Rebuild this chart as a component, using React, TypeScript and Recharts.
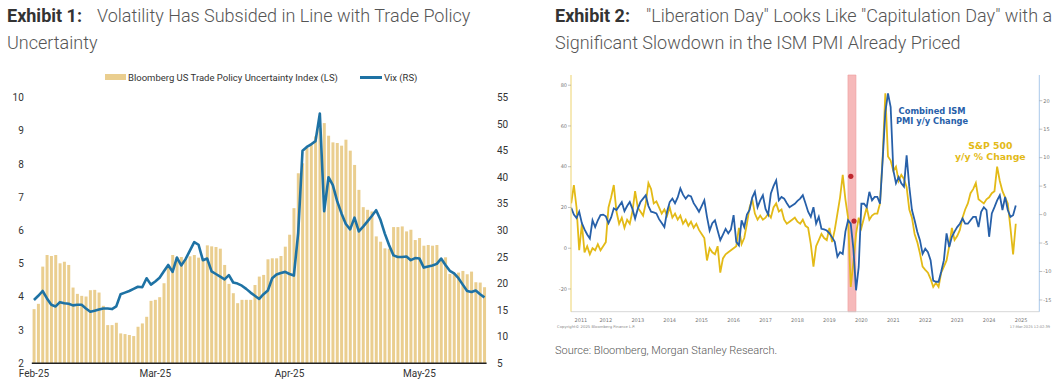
import React from 'react';
import {
  Bar,
  ComposedChart,
  Line,
  ReferenceArea,
  ReferenceDot,
  XAxis,
  YAxis,
} from 'recharts';

const FONT = 'Roboto, "Liberation Sans", Arial, sans-serif';
const BBG_FONT = '"DejaVu Sans", Verdana, sans-serif';

// ---- Exhibit 1: daily values from 1 Feb 2025 ----
const tpuIndex = [
  3.63, 3.79, 4.91, 5.26, 5.23, 5.26, 5.01, 5.06, 4.96, 4.28, 4.09, 4.03, 4.01, 4.2, 4.21, 4.13,
  3.73, 3.15, 3.15, 3.22, 2.9, 2.88, 2.85, 2.82, 3.1, 3.2, 3.4,
  3.88, 3.91, 3.99, 4.41, 4.88, 5.26, 5.2, 5.2, 5.15, 5.22, 5.26, 5.18, 5.15, 5.55, 5.52, 5.5,
  5.45, 4.96, 4.39, 4.11, 3.81, 3.91, 3.91, 3.91, 4.36, 4.61, 4.66,
  5.13, 5.16, 5.16, 5.23, 5.51, 5.87, 6.67, 7.72, 8.02, 8.48, 8.63, 8.83, 9.08, 9.23, 8.85, 8.65,
  8.63, 8.55, 8.73, 8.4, 7.97, 7.22, 6.7, 6.62, 6.57, 5.82, 5.66,
  5.46, 5.45, 6.1, 6.1, 6.12, 5.97, 6.02, 5.71, 5.77, 5.54, 5.56, 5.54, 5.56, 5.13, 5.19, 4.69,
  4.69, 4.73, 4.78, 4.68, 4.76, 4.44, 4.43, 4.29,
];
const vixClose = [
  16.9, 17.7, 18.6, 17.2, 16.0, 15.7, 16.5, 16.3, 16.2, 15.9, 16.0, 16.0, 15.3, 14.7, 14.9, 15.1,
  15.3, 15.3, 15.2, 15.7, 18.0, 18.3, 18.6, 19.0, 19.4, 19.3, 21.0,
  19.8, 20.4, 21.1, 22.3, 23.5, 22.2, 24.9, 23.4, 24.6, 26.2, 27.8, 27.3, 24.4, 24.7, 22.3, 21.8,
  21.3, 20.8, 21.6, 20.2, 20.0, 19.6, 19.0, 18.3, 17.7, 17.1, 18.0,
  18.7, 21.0, 21.7, 22.0, 22.2, 21.8, 21.5, 29.5, 45.0, 45.7, 46.2, 46.8, 52.0, 33.6, 40.0, 38.5,
  35.5, 33.2, 31.2, 30.2, 32.4, 29.8, 30.7, 31.7, 32.7, 33.8, 32.0,
  29.4, 27.2, 25.3, 25.0, 25.0, 25.1, 24.4, 24.8, 24.7, 23.0, 23.2, 23.4, 23.7, 24.7, 23.5, 22.4,
  21.9, 21.0, 19.8, 18.6, 18.4, 18.7, 18.0, 17.4,
];
const monthStarts = ['2025-02-01', '2025-03-01', '2025-04-01', '2025-05-01'];
const monthLabels = ['Feb-25', 'Mar-25', 'Apr-25', 'May-25'];
const tpuTicks = [2, 3, 4, 5, 6, 7, 8, 9, 10];
const vixTicks = [5, 10, 15, 20, 25, 30, 35, 40, 45, 50, 55];

// ---- Exhibit 2: monthly values from Jun 2011 ----
const spxYoY = [
  22, 31, 20, -1, 12, -2, 1,
  -3, 0, -1, 2, -1, 1, 3, 20, 25, 31, 18, 12,
  15, 10, 14, 12, 18, 28, 20, 18, 16, 22, 32, 29,
  22, 23, 20, 17, 19, 16, 20, 15, 17, 14, 16, 12,
  14, 11, 13, 10, 12, 9, 7, 5, -6, 0, -2, -3,
  1, -12, -5, -3, -2, -1, 0, 1, 10, 2, 5, 12,
  20, 24, 17, 14, 16, 14, 15, 17, 15, 20, 22, 18,
  19, 14, 12, 13, 14, 15, 13, 12, 14, 11, 10, 2,
  -9, 1, 4, 7, 5, 4, 10, 3, 9, 17, 25, 36,
  24, 15, -19, -7, 7, 15, 10, 15, 20, 14, 16, 17,
  17, 22, 45, 76, 45, 43, 38, 40, 33, 36, 34, 30,
  19, 15, 7, 3, -2.5, -9, -10.6, -12, -15, -19, -17, -19,
  -12, -9, -6, 1, 10, 4, 6, 9, 15, 19, 22, 27,
  29, 32, 24, 23, 22, 24, 25, 27, 28, 40, 33, 28,
  25, 22, 10, -3, 12,
];
const ismYoY = [
  1.2, 0.0, -0.6, 0.5, -1.5, -2.6, -3.5,
  -4.2, -1.0, -2.2, -1.0, -0.1, 0.0, -0.3, -1.5, -0.5, 1.1, 0.8, 1.5,
  2.2, 0.6, 1.5, 2.2, 1.0, -0.7, 1.0, 2.2, 2.8, 3.4, 1.5, 0.5,
  0.4, 0.2, -0.8, -1.5, -2.2, 0.5, 2.2, 2.8, 2.0, 3.0, 4.6, 3.5,
  2.8, 3.4, 3.2, 2.0, 1.3, 0.5, 1.5, 2.5, -0.4, -2.8, -1.5, -1.0,
  -2.8, -4.5, -3.5, -2.5, -3.3, -2.6, -0.1, -4.8, -5.4, -1.0, -2.2, 0.0,
  0.8, 3.0, 4.0, 1.3, 2.5, 3.4, 1.0, 0.0, 3.7, 5.0, 6.0, 2.5,
  3.1, 2.8, 2.0, 1.3, 1.6, 1.9, 2.4, 2.8, 3.4, 2.0, 0.5, -0.4,
  1.3, -1.6, -0.4, -2.5, -2.6, -2.8, -3.3, -4.0, -4.8, -7.4, -6.6, -6.9,
  -3.0, -1.0, -1.6, -6.0, -13.3, -9.2, 1.9, 1.9, 1.3, 4.0, 2.5, 3.1,
  3.1, 1.9, 9.6, 18.0, 21.3, 18.9, 7.8, 5.5, 6.6, 5.5, 4.9, 10.4,
  4.9, 0.8, -1.0, -3.0, -4.5, -6.9, -6.0, -6.6, -8.0, -11.6, -11.8, -11.8,
  -10.0, -8.0, -3.3, -5.7, -3.9, -3.0, -2.2, -1.6, -0.7, -1.6, -1.6, -1.0,
  -0.4, -0.4, -2.2, 0.5, 1.3, 0.8, -3.9, 0.2, 1.3, 2.5, 3.4, 0.8,
  3.1, 0.8, -0.4, -0.1, 1.6,
];
const yearLabels = ['2011', '2012', '2013', '2014', '2015', '2016', '2017', '2018', '2019', '2020', '2021', '2022', '2023', '2024', '2025'];
const yearLabelAt = [2011.72, 2012.5, 2013.5, 2014.5, 2015.5, 2016.5, 2017.5, 2018.5, 2019.5, 2020.5, 2021.5, 2022.5, 2023.5, 2024.5, 2025.5];
const yearBreaks = [2012, 2013, 2014, 2015, 2016, 2017, 2018, 2019, 2020, 2021, 2022, 2023, 2024, 2025, 2026];
const spxTicks = [-20, 0, 20, 40, 60, 80];
const ismTicks = [-15, -10, -5, 0, 5, 10, 15, 20];
const covidBand = [2020.08, 2020.33];
const arrowMarks = [
  { t: 2020.17, spx: 35.3 },
  { t: 2020.27, spx: 13.3 },
];

const DAY = 86400000;
const start = Date.UTC(2025, 1, 1);
const daily = tpuIndex.map((v, i) => ({
  date: new Date(start + i * DAY).toISOString().slice(0, 10),
  tpu: v,
  vix: vixClose[i],
}));

const monthly = spxYoY.map((v, i) => ({
  t: 2011 + (5 + i) / 12,
  spx: v,
  ism: ismYoY[i],
}));

const BAR = '#EACE8F';
const VIX_BLUE = '#1E72A4';
const SPX_GOLD = '#E3BA17';
const ISM_BLUE = '#2760A9';

function Exhibit1() {
  const axisTick = { fill: '#333', fontSize: 10, fontFamily: FONT };
  return (
    <ComposedChart
      width={530}
      height={330}
      data={daily}
      margin={{ top: 37.5, right: 0, bottom: 0, left: 0 }}
      barCategoryGap="18%"
    >
      <XAxis
        dataKey="date"
        ticks={monthStarts}
        tickFormatter={d => monthLabels[monthStarts.indexOf(d)] ?? ''}
        tick={axisTick}
        tickLine={false}
        tickSize={0}
        tickMargin={7}
        axisLine={{ stroke: '#222', strokeWidth: 1.6 }}
        height={26.7}
        interval={0}
      />
      <YAxis
        yAxisId="tpu"
        domain={[2, 10]}
        ticks={tpuTicks}
        tick={axisTick}
        tickLine={false}
        axisLine={false}
        tickSize={0}
        tickMargin={8}
        width={31.8}
      />
      <YAxis
        yAxisId="vix"
        orientation="right"
        domain={[5, 55]}
        ticks={vixTicks}
        tick={{ ...axisTick, textAnchor: 'start' }}
        tickLine={false}
        axisLine={false}
        tickSize={0}
        tickMargin={10.4}
        width={43.4}
      />
      <Bar yAxisId="tpu" dataKey="tpu" fill={BAR} isAnimationActive={false} />
      <Line
        yAxisId="vix"
        type="linear"
        dataKey="vix"
        stroke={VIX_BLUE}
        strokeWidth={2.6}
        dot={false}
        strokeLinejoin="round"
        isAnimationActive={false}
      />
    </ComposedChart>
  );
}

function Exhibit2() {
  const tiny = { fill: '#777', fontSize: 5, fontFamily: BBG_FONT };
  return (
    <ComposedChart
      width={518}
      height={280}
      data={monthly}
      margin={{ top: 15, right: 0, bottom: 0, left: 0 }}
    >
      <XAxis
        xAxisId="sep"
        type="number"
        dataKey="t"
        domain={[2011.41, 2026.07]}
        allowDataOverflow
        ticks={yearBreaks}
        tick={false}
        tickSize={11}
        tickLine={{ stroke: '#aaa', strokeWidth: 0.8 }}
        axisLine={{ stroke: '#ccc', strokeWidth: 0.8 }}
        height={1}
      />
      <XAxis
        xAxisId="yr"
        type="number"
        dataKey="t"
        domain={[2011.41, 2026.07]}
        allowDataOverflow
        ticks={yearLabelAt}
        tickFormatter={v => yearLabels[yearLabelAt.indexOf(v)] ?? ''}
        tick={tiny}
        tickLine={false}
        axisLine={false}
        tickSize={0}
        tickMargin={5.5}
        height={27.3}
        interval={0}
      />
      <YAxis
        yAxisId="spx"
        domain={[-31.15, 85]}
        allowDataOverflow
        ticks={spxTicks}
        tick={tiny}
        tickSize={3}
        tickMargin={1}
        tickLine={{ stroke: '#999', strokeWidth: 0.6 }}
        axisLine={{ stroke: '#EDD36E', strokeWidth: 1 }}
        width={31}
      />
      <YAxis
        yAxisId="ism"
        orientation="right"
        domain={[-17.06, 24.52]}
        allowDataOverflow
        ticks={ismTicks}
        tick={tiny}
        tickSize={3}
        tickMargin={1}
        tickLine={{ stroke: '#999', strokeWidth: 0.6 }}
        axisLine={{ stroke: '#A9C9EA', strokeWidth: 1 }}
        width={18.7}
      />
      <ReferenceArea
        xAxisId="sep"
        yAxisId="spx"
        x1={covidBand[0]}
        x2={covidBand[1]}
        fill="#F6B9BA"
        fillOpacity={1}
        stroke="#EE9A9C"
        strokeWidth={0.6}
      />
      <Line
        xAxisId="sep"
        yAxisId="spx"
        type="linear"
        dataKey="spx"
        stroke={SPX_GOLD}
        strokeWidth={1.8}
        dot={false}
        isAnimationActive={false}
      />
      <Line
        xAxisId="sep"
        yAxisId="ism"
        type="linear"
        dataKey="ism"
        stroke={ISM_BLUE}
        strokeWidth={1.8}
        dot={false}
        isAnimationActive={false}
      />
      {arrowMarks.map(m => (
        <ReferenceDot
          key={m.t}
          xAxisId="sep"
          yAxisId="spx"
          x={m.t}
          y={m.spx}
          r={2.6}
          fill="#C0282E"
          stroke="none"
        />
      ))}
    </ComposedChart>
  );
}

const titleStyle: React.CSSProperties = {
  position: 'absolute',
  fontFamily: FONT,
  fontSize: 18,
  fontWeight: 300,
  color: '#555',
  lineHeight: '27px',
  whiteSpace: 'nowrap',
};

export default function App() {
  return (
    <div
      style={{
        position: 'absolute',
        left: 0,
        top: 0,
        width: 1058,
        height: 391,
        background: '#fff',
        overflow: 'hidden',
        fontFamily: FONT,
      }}
    >
      <div style={{ ...titleStyle, left: 7, top: 1.5 }}>
        <div>
          <span style={{ display: 'inline-block', width: 90, fontWeight: 700, color: '#333' }}>Exhibit 1:</span>
          Volatility Has Subsided in Line with Trade Policy
        </div>
        <div>Uncertainty</div>
      </div>
      <div style={{ ...titleStyle, left: 555, top: 1.5 }}>
        <div>
          <span style={{ display: 'inline-block', width: 91, fontWeight: 700, color: '#333' }}>Exhibit 2:</span>
          "Liberation Day" Looks Like "Capitulation Day" with a
        </div>
        <div>Significant Slowdown in the ISM PMI Already Priced</div>
      </div>

      <div
        style={{
          position: 'absolute',
          left: 105,
          top: 70,
          height: 14,
          display: 'flex',
          alignItems: 'center',
          fontSize: 9.5,
          color: '#333',
          whiteSpace: 'nowrap',
        }}
      >
        <span style={{ display: 'inline-block', width: 21, height: 6, background: BAR, marginRight: 2 }} />
        <span>Bloomberg US Trade Policy Uncertainty Index (LS)</span>
        <span style={{ display: 'inline-block', width: 22, height: 3, background: VIX_BLUE, marginLeft: 22, marginRight: 2 }} />
        <span>Vix (RS)</span>
      </div>

      <div style={{ position: 'absolute', left: 0, top: 60 }}>
        <Exhibit1 />
      </div>

      <div style={{ position: 'absolute', left: 540, top: 60 }}>
        <Exhibit2 />
      </div>

      <div
        style={{
          position: 'absolute',
          left: 896,
          top: 107,
          fontFamily: BBG_FONT,
          fontWeight: 700,
          fontSize: 8.3,
          lineHeight: '9.5px',
          color: ISM_BLUE,
          textAlign: 'center',
          whiteSpace: 'nowrap',
        }}
      >
        <div>Combined ISM</div>
        <div>PMI y/y Change</div>
      </div>
      <div
        style={{
          position: 'absolute',
          left: 955,
          top: 141,
          fontFamily: BBG_FONT,
          fontWeight: 700,
          fontSize: 9.3,
          lineHeight: '10.5px',
          color: SPX_GOLD,
          textAlign: 'center',
          whiteSpace: 'nowrap',
        }}
      >
        <div>S&amp;P 500</div>
        <div>y/y % Change</div>
      </div>

      <svg style={{ position: 'absolute', left: 0, top: 0 }} width={1058} height={391}>
        <text x={557} y={328} fontSize={3.8} fill="#888" fontFamily={BBG_FONT}>
          Copyright© 2025 Bloomberg Finance L.P.
        </text>
        <text x={1050} y={328} fontSize={3.6} fill="#888" fontFamily={BBG_FONT} textAnchor="end">
          17-Mar-2025 12:02:39
        </text>
      </svg>

      <div
        style={{
          position: 'absolute',
          left: 555,
          top: 344,
          fontSize: 11,
          fontWeight: 300,
          color: '#555',
          whiteSpace: 'nowrap',
        }}
      >
        Source: Bloomberg, Morgan Stanley Research.
      </div>
    </div>
  );
}
